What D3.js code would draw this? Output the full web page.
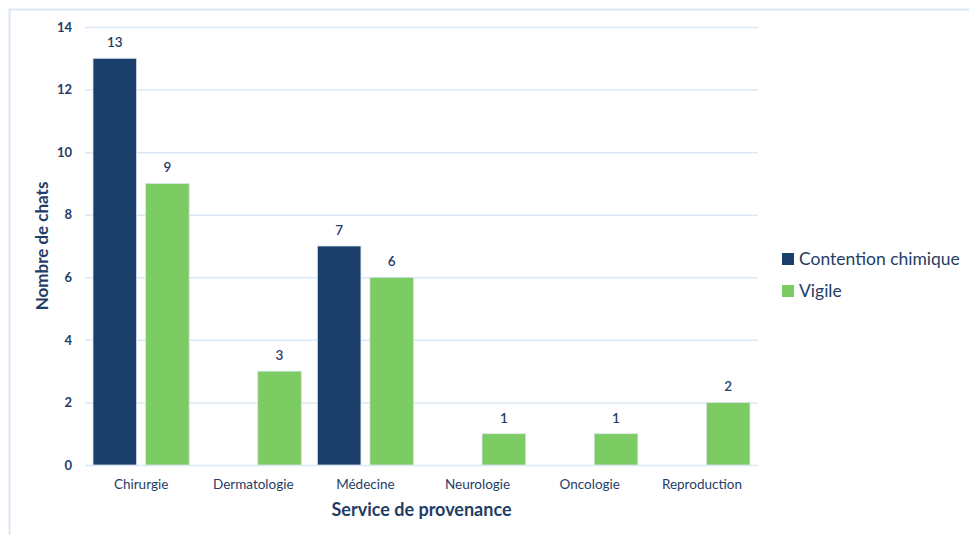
<!DOCTYPE html>
<html>
<head>
<meta charset="utf-8">
<script src="https://cdn.jsdelivr.net/npm/d3@7"></script>
<style>
  html, body { margin: 0; padding: 0; background: #fff; }
  #chart { width: 969px; height: 535px; }
  text { font-family: Lato, "Open Sans", sans-serif; }
</style>
</head>
<body>
<div id="chart"></div>
<script>
// Data
const categories = ['Chirurgie', 'Dermatologie', 'Médecine', 'Neurologie', 'Oncologie', 'Reproduction'];
const seriesNames = ['Contention chimique', 'Vigile'];
const contention = [13, 0, 7, 0, 0, 0];
const vigile = [9, 3, 6, 1, 1, 2];
const yTicks = [0, 2, 4, 6, 8, 10, 12, 14];

const colors = ['#193f6a', '#7dcb63'];
const textColor = '#1f3d66';

const W = 969, H = 535;
const margin = { top: 27, right: 211, bottom: 70, left: 85 };
const width = W - margin.left - margin.right;
const height = H - margin.top - margin.bottom;

const svg = d3.select('#chart').append('svg')
    .attr('width', W)
    .attr('height', H);

// Outer frame
svg.append('rect')
    .attr('x', 9.5).attr('y', 9.5)
    .attr('width', W + 10).attr('height', H + 10)
    .attr('fill', 'none')
    .attr('stroke', '#dbe7f4')
    .attr('stroke-width', 2);

const g = svg.append('g').attr('transform', `translate(${margin.left},${margin.top})`);

const x0 = d3.scaleBand().domain(categories).range([0, width]).paddingInner(0).paddingOuter(0);
const x1 = d3.scaleBand().domain(seriesNames).range([8, x0.bandwidth() - 8]).paddingInner(0.17);
const y = d3.scaleLinear().domain([0, 14]).range([height, 0]);

// Grid lines
g.append('g')
    .call(d3.axisLeft(y).tickValues(yTicks).tickSize(-width).tickFormat(''))
    .call(s => s.select('.domain').remove())
    .selectAll('line')
    .attr('stroke', '#dce8f5')
    .attr('stroke-width', 1.5);

// Y tick labels
g.append('g')
    .call(d3.axisLeft(y).tickValues(yTicks).tickSize(0).tickPadding(13))
    .call(s => s.select('.domain').remove())
    .selectAll('text')
    .style('font-size', '13px')
    .style('font-weight', 'bold')
    .style('fill', textColor);

// X tick labels
g.append('g')
    .attr('transform', `translate(0,${height})`)
    .call(d3.axisBottom(x0).tickSize(0).tickPadding(14))
    .call(s => s.select('.domain').remove())
    .selectAll('text')
    .style('font-size', '13.5px')
    .style('fill', textColor);

const seriesData = [contention, vigile];

seriesData.forEach((vals, si) => {
    const rows = categories.map((c, i) => ({ cat: c, v: vals[i] })).filter(d => d.v > 0);
    g.selectAll(`.bar-${si}`)
        .data(rows)
        .enter()
        .append('rect')
        .attr('x', d => x0(d.cat) + x1(seriesNames[si]))
        .attr('y', d => y(d.v))
        .attr('width', x1.bandwidth())
        .attr('height', d => height - y(d.v))
        .attr('fill', colors[si])
        .attr('stroke', '#d9e5f2')
        .attr('stroke-width', 0.8);

    g.selectAll(`.lbl-${si}`)
        .data(rows)
        .enter()
        .append('text')
        .attr('x', d => x0(d.cat) + x1(seriesNames[si]) + x1.bandwidth() / 2)
        .attr('y', d => y(d.v) - 11)
        .attr('text-anchor', 'middle')
        .style('font-size', '13.5px')
        .style('font-weight', '600')
        .style('fill', textColor)
        .text(d => d.v);
});

// Axis titles
svg.append('text')
    .attr('transform', `translate(48,${margin.top + height / 2}) rotate(-90)`)
    .attr('text-anchor', 'middle')
    .style('font-size', '17px')
    .style('font-weight', 'bold')
    .style('fill', textColor)
    .text('Nombre de chats');

svg.append('text')
    .attr('x', margin.left + width / 2)
    .attr('y', 516)
    .attr('text-anchor', 'middle')
    .style('font-size', '18px')
    .style('font-weight', 'bold')
    .style('fill', textColor)
    .text('Service de provenance');

// Legend
const legend = svg.append('g').attr('transform', 'translate(782,253)');
seriesNames.forEach((name, i) => {
    const item = legend.append('g').attr('transform', `translate(0,${i * 32})`);
    item.append('rect').attr('x', 0).attr('y', 0).attr('width', 12).attr('height', 12).attr('fill', colors[i]);
    item.append('text').attr('x', 17).attr('y', 12)
        .style('font-size', '17.5px')
        .style('fill', textColor)
        .text(name);
});
</script>
</body>
</html>
